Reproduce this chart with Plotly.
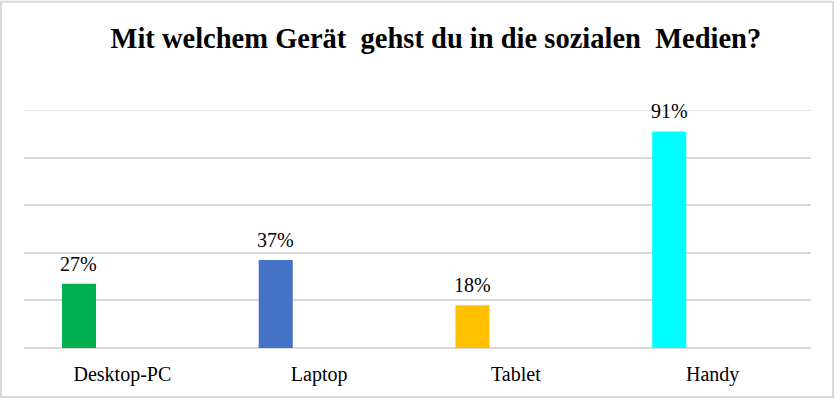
import plotly.graph_objects as go

categories = ["Desktop-PC", "Laptop", "Tablet", "Handy"]
values = [27, 37, 18, 91]
labels = ["27%", "37%", "18%", "91%"]
colors = ["#00B050", "#4472C4", "#FFC000", "#00FFFF"]
title = "Mit welchem Gerät  gehst du in die sozialen  Medien?"

SERIF = "Liberation Serif, Times New Roman, serif"

fig = go.Figure()
fig.add_trace(go.Bar(
    x=categories, y=values,
    marker=dict(color=colors, line=dict(width=0)),
    width=0.173, offset=-0.307,
    hoverinfo="skip",
))

for c, v, t in zip(categories, values, labels):
    fig.add_annotation(
        x=c, y=v, xref="x", yref="y", text=t, showarrow=False,
        xanchor="center", yanchor="bottom", xshift=-43.5, yshift=7,
        font=dict(family=SERIF, size=20, color="#000000"),
    )

# outer chart border
fig.add_shape(type="rect", xref="paper", yref="paper",
              x0=-0.0292, x1=1.0280, y0=-0.2055, y1=1.455,
              line=dict(color="#d9d9d9", width=2), fillcolor="rgba(0,0,0,0)")

# top gridline (100%)
fig.add_shape(type="line", xref="paper", yref="y", x0=0, x1=1, y0=100, y1=100,
              line=dict(color="#d9d9d9", width=1.5), layer="below")

fig.update_layout(
    width=835, height=399,
    margin=dict(l=24, r=24, t=109.5, b=51),
    paper_bgcolor="white", plot_bgcolor="white",
    showlegend=False,
    title=dict(text=title, x=0.522, xanchor="center", xref="container",
               y=0.905, yanchor="middle", yref="container",
               font=dict(family=SERIF, size=28.5, color="#000000", weight="bold")),
    font=dict(family=SERIF, color="#000000"),
)
fig.update_xaxes(showgrid=False, showline=False, ticks="", zeroline=False,
                 tickfont=dict(family=SERIF, size=20, color="#000000"),
                 ticklabelstandoff=12)
fig.update_yaxes(range=[0, 100], dtick=20, showgrid=True, gridcolor="#d9d9d9",
                 gridwidth=1.5, zeroline=True, zerolinecolor="#d9d9d9", zerolinewidth=1.5,
                 showticklabels=False, ticks="", showline=False)

fig.write_html("out.html", config={"displayModeBar": False},
               post_script="document.body.style.margin='0';document.body.style.overflow='hidden';")
